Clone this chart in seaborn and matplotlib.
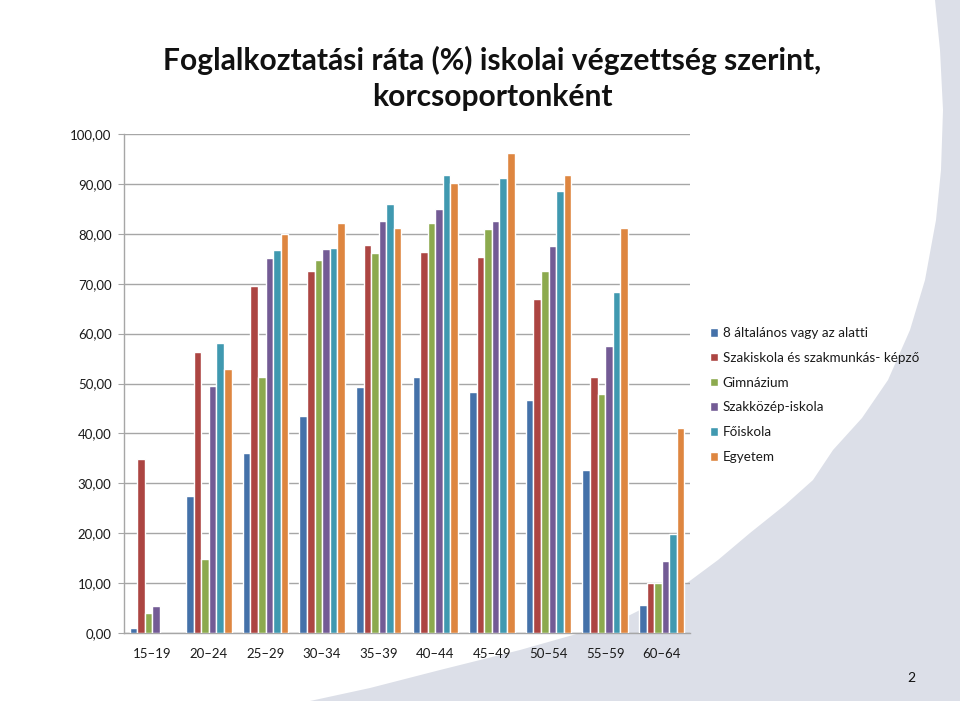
import matplotlib
matplotlib.use("Agg")
import matplotlib.pyplot as plt
from matplotlib.patches import Polygon
import seaborn as sns
import pandas as pd

# age groups and employment rates (%) per education level
age_groups = ["15–19", "20–24", "25–29", "30–34", "35–39",
              "40–44", "45–49", "50–54", "55–59", "60–64"]
levels = ["8 általános vagy az alatti", "Szakiskola és szakmunkás- képző",
          "Gimnázium", "Szakközép-iskola", "Főiskola", "Egyetem"]

altalanos = [1.0, 27.5, 36.0, 43.5, 49.3, 51.3, 48.3, 46.7, 32.7, 5.6]
szakiskola = [34.8, 56.4, 69.5, 72.6, 77.8, 76.3, 75.3, 67.0, 51.3, 10.1]
gimnazium = [4.1, 14.8, 51.4, 74.7, 76.1, 82.1, 80.9, 72.5, 47.9, 10.0]
szakkozep = [5.4, 49.5, 75.2, 76.9, 82.6, 85.0, 82.5, 77.6, 57.6, 14.5]
foiskola = [None, 58.2, 76.7, 77.1, 85.9, 91.8, 91.2, 88.5, 68.3, 19.9]
egyetem = [None, 53.0, 79.9, 82.2, 81.1, 90.2, 96.2, 91.8, 81.2, 41.0]

y_ticks = [0, 10, 20, 30, 40, 50, 60, 70, 80, 90, 100]

colors = ["#4471A9", "#AC4542", "#8CAA4E", "#735B95", "#4099B0", "#DE8640"]

series = [altalanos, szakiskola, gimnazium, szakkozep, foiskola, egyetem]
rows = []
for level, vals in zip(levels, series):
    for age, v in zip(age_groups, vals):
        rows.append({"age": age, "level": level, "value": v})
df = pd.DataFrame(rows).dropna()

sns.set_style("white")
plt.rcParams["font.family"] = ["Lato", "DejaVu Sans"]

fig = plt.figure(figsize=(9.6, 7.01), dpi=100)

# slide background: grey with a large white curved area (pixel coords)
bg = fig.add_axes([0, 0, 1, 1], zorder=-10)
bg.set_xlim(0, 960)
bg.set_ylim(701, 0)
bg.set_facecolor("#DCDFE8")
edge = [(0, 0), (935, 0), (940, 50), (943, 110), (941, 170), (936, 220),
        (925, 280), (910, 330), (888, 380), (862, 418), (833, 450),
        (813, 480), (785, 505), (750, 533), (718, 560), (687, 583),
        (660, 600), (630, 615), (580, 633), (520, 650), (440, 670),
        (370, 688), (310, 701), (0, 701)]
bg.add_patch(Polygon(edge, closed=True, facecolor="white", edgecolor="none"))
for s in bg.spines.values():
    s.set_visible(False)
bg.set_xticks([])
bg.set_yticks([])

ax = fig.add_axes([124 / 960, (701 - 633) / 701, (690 - 124) / 960, (633 - 134) / 701])
ax.patch.set_alpha(0)

sns.barplot(data=df, x="age", y="value", hue="level", order=age_groups,
            hue_order=levels, palette=colors, width=0.8, errorbar=None,
            saturation=1, ax=ax, zorder=3)

ax.set_ylim(0, 100)
ax.set_yticks(y_ticks)
ax.set_yticklabels([f"{t:.2f}".replace(".", ",") for t in y_ticks])
ax.yaxis.grid(True, color="#A6A6A6", linewidth=1.0, zorder=0)
ax.set_axisbelow(True)
ax.set_xlabel("")
ax.set_ylabel("")
for side in ["top", "right"]:
    ax.spines[side].set_visible(False)
for side in ["left", "bottom"]:
    ax.spines[side].set_color("#A6A6A6")
    ax.spines[side].set_linewidth(1.0)
ax.tick_params(axis="y", length=4, color="#A6A6A6", pad=5, labelsize=9.5, labelcolor="#1a1a1a", left=True)
ax.tick_params(axis="x", length=0, pad=11, labelsize=9.5, labelcolor="#1a1a1a")

leg = ax.legend(loc="upper left", bbox_to_anchor=(710 / 960, (701 - 327) / 701),
                bbox_transform=fig.transFigure, frameon=False, fontsize=9.7,
                handlelength=0.6, handleheight=0.6, handletextpad=0.35,
                labelspacing=0.95, borderaxespad=0, borderpad=0)
for t in leg.get_texts():
    t.set_color("#1a1a1a")

fig.text(492 / 960, 1 - 60 / 701, "Foglalkoztatási ráta (%) iskolai végzettség szerint,",
         ha="center", va="center", fontsize=21.6, fontweight="bold", color="#111111")
fig.text(492 / 960, 1 - 97 / 701, "korcsoportonként",
         ha="center", va="center", fontsize=21.6, fontweight="bold", color="#111111")
fig.text(911 / 960, 1 - 678 / 701, "2", ha="center", va="center", fontsize=10, color="#111111")

fig.savefig("out.png", dpi=100)
